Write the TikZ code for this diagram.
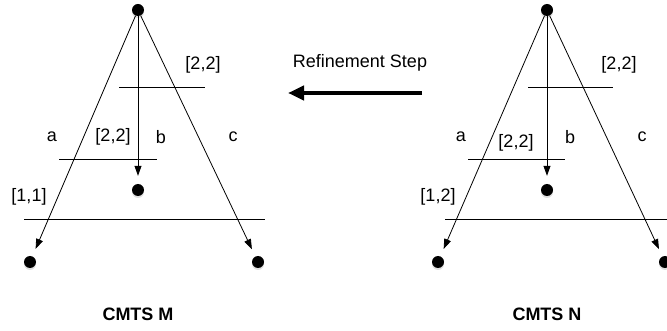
\documentclass[tikz,border=0pt]{standalone}
\usepackage{fontspec}
\setmainfont{Liberation Sans}
\usetikzlibrary{arrows.meta}
\usetikzlibrary{shadows}

\tikzset{
  dot/.style={circle, fill=black, inner sep=0pt, minimum size=12pt,
    drop shadow={opacity=0.25, shadow xshift=0pt, shadow yshift=-2pt}},
  edge/.style={-{Triangle[length=10pt,width=7pt]}, line width=0.8pt, shorten >=8pt},
  cut/.style={line width=0.8pt},
  lbl/.style={font=\fontsize{18}{20}\selectfont, inner sep=0pt}
}

\begin{document}
\begin{tikzpicture}[x=1pt, y=-1pt]
    \useasboundingbox (0,0) rectangle (667,331);

    % CMTS M
    \node[dot] (mtop) at (138,10) {};
    \node[dot] (mmid) at (138,190) {};
    \node[dot] (mleft) at (30,262) {};
    \node[dot] (mright) at (258,262) {};
    \draw[edge] (mtop) -- (mleft);
    \draw[edge] (mtop) -- (mmid);
    \draw[edge] (mtop) -- (mright);
    \draw[cut] (119,87) -- (205,87);
    \draw[cut] (59,159) -- (157,159);
    \draw[cut] (24,219) -- (265,219);
    \node[lbl] (mupper) at (203,65) {[2,2]};
    \node[lbl] (mcenter) at (113,137) {[2,2]};
    \node[lbl] (mlower) at (29,197) {[1,1]};
    \node[lbl] (ma) at (52,137) {a};
    \node[lbl] (mb) at (161,137) {b};
    \node[lbl] (mc) at (233,137) {c};
    \node[lbl, font=\fontsize{18}{20}\selectfont\bfseries] (mname) at (138,314) {CMTS M};

    % Refinement step
    \node[lbl] (step) at (360,63) {Refinement Step};
    \coordinate (sfrom) at (422,93);
    \coordinate (sto) at (288,93);
    \draw[-{Triangle[length=16pt,width=14pt]}, line width=4.5pt] (sfrom) -- (sto);

    % CMTS N
    \node[dot] (ntop) at (547,10) {};
    \node[dot] (nmid) at (547,190) {};
    \node[dot] (nleft) at (438,262) {};
    \node[dot] (nright) at (665,262) {};
    \draw[edge] (ntop) -- (nleft);
    \draw[edge] (ntop) -- (nmid);
    \draw[edge] (ntop) -- (nright);
    \draw[cut] (528,87) -- (613,87);
    \draw[cut] (468,159) -- (565,159);
    \draw[cut] (445,219) -- (672,219);
    \node[lbl] (nupper) at (619,65) {[2,2]};
    \node[lbl] (ncenter) at (516,143) {[2,2]};
    \node[lbl] (nlower) at (438,197) {[1,2]};
    \node[lbl] (na) at (461,137) {a};
    \node[lbl] (nb) at (570,137) {b};
    \node[lbl] (nc) at (642,137) {c};
    \node[lbl, font=\fontsize{18}{20}\selectfont\bfseries] (nname) at (547,314) {CMTS N};
\end{tikzpicture}
\end{document}
